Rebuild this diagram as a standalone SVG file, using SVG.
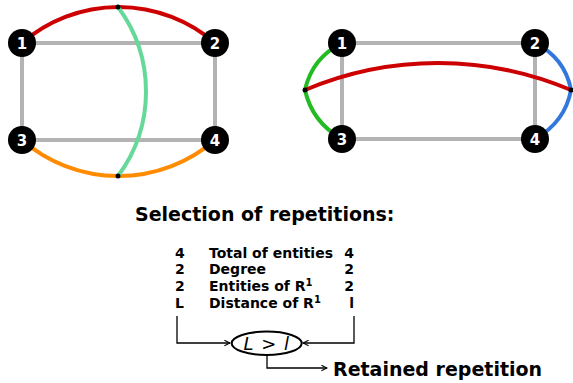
<svg xmlns="http://www.w3.org/2000/svg" width="573" height="383" viewBox="0 0 573 383">
<style>
.edge{fill:none;stroke:#b3b3b3;stroke-width:4}
.arc{fill:none;stroke-width:4;stroke-linecap:round}
.node circle{fill:#000}
.node text{fill:#fff;font-family:"DejaVu Sans",Verdana,sans-serif;font-weight:bold;font-size:15px;text-anchor:middle}
.dot{fill:#000}
.t{font-family:"DejaVu Sans",Verdana,sans-serif;font-weight:bold;fill:#000}
.sup{font-size:10px}
.conn{fill:none;stroke:#000;stroke-width:1.3}
</style>
<defs>
<marker id="arr" viewBox="0 0 10 10" refX="9" refY="5" markerWidth="7" markerHeight="7" markerUnits="userSpaceOnUse" orient="auto">
<path d="M1,1 L9,5 L1,9" fill="none" stroke="#000" stroke-width="1.5"/>
</marker>
</defs>
<g id="graph-left">
<path class="edge" d="M22,43 H215 V140 H22 Z"/>
<path class="arc" stroke="#cc0000" d="M22,43 A147.3,147.3 0 0 1 215,43"/>
<path class="arc" stroke="#ff8c00" d="M22,140 A147.3,147.3 0 0 0 215,140"/>
<path class="arc" stroke="#66d99a" d="M118,7 A141.5,141.5 0 0 1 118,176"/>
<circle class="dot" cx="118" cy="7" r="2.5"/>
<circle class="dot" cx="118" cy="176" r="2.5"/>
</g>
<g id="graph-right">
<path class="edge" d="M342,43 H535 V139 H342 Z"/>
<path class="arc" stroke="#22bb22" d="M342,43 Q312,58 305,90 Q312,122 342,139"/>
<path class="arc" stroke="#3377dd" d="M535,43 Q565,58 571,90 Q565,122 535,139"/>
<path class="arc" stroke="#cc0000" d="M305,90 A341,341 0 0 1 571,90"/>
<circle class="dot" cx="305" cy="90" r="2.5"/>
<circle class="dot" cx="571" cy="90" r="2.5"/>
</g>
<g id="n1" class="node"><circle cx="22" cy="43" r="14"/><text x="22" y="48.5">1</text></g>
<g id="n2" class="node"><circle cx="215" cy="43" r="14"/><text x="215" y="48.5">2</text></g>
<g id="n3" class="node"><circle cx="22" cy="140" r="14"/><text x="22" y="145.5">3</text></g>
<g id="n4" class="node"><circle cx="215" cy="140" r="14"/><text x="215" y="145.5">4</text></g>
<g id="m1" class="node"><circle cx="342" cy="43" r="14"/><text x="342" y="48.5">1</text></g>
<g id="m2" class="node"><circle cx="535" cy="43" r="14"/><text x="535" y="48.5">2</text></g>
<g id="m3" class="node"><circle cx="342" cy="139" r="14"/><text x="342" y="144.5">3</text></g>
<g id="m4" class="node"><circle cx="535" cy="139" r="14"/><text x="535" y="144.5">4</text></g>
<g id="title"><text class="t" x="135" y="221" font-size="19">Selection of repetitions:</text></g>
<g id="table" font-size="14">
<text class="t" x="175" y="257.5">4</text>
<text class="t" x="209" y="257.5">Total of entities</text>
<text class="t" x="354" y="257.5" text-anchor="end">4</text>
<text class="t" x="175" y="274.3">2</text>
<text class="t" x="209" y="274.3">Degree</text>
<text class="t" x="354" y="274.3" text-anchor="end">2</text>
<text class="t" x="175" y="291">2</text>
<text class="t" x="209" y="291">Entities of R<tspan class="sup" dy="-5">1</tspan></text>
<text class="t" x="354" y="291" text-anchor="end">2</text>
<text class="t" x="175" y="307.8">L</text>
<text class="t" x="209" y="307.8">Distance of R<tspan class="sup" dy="-5">1</tspan></text>
<text class="t" x="354" y="307.8" text-anchor="end">l</text>
</g>
<g id="connectors">
<path class="conn" d="M177,316 V343 H230" marker-end="url(#arr)"/>
<path class="conn" d="M354,316 V343 H303" marker-end="url(#arr)"/>
<path class="conn" d="M267,355 V368 H327" marker-end="url(#arr)"/>
</g>
<g id="compare">
<ellipse cx="266.7" cy="343.3" rx="35" ry="11.7" fill="#fff" stroke="#000" stroke-width="2"/>
<text x="266.7" y="349.5" font-family="DejaVu Sans,Verdana,sans-serif" font-style="italic" font-size="18" letter-spacing="1" text-anchor="middle">L &gt; l</text>
</g>
<g id="result"><text class="t" x="333" y="376" font-size="19">Retained repetition</text></g>
</svg>
